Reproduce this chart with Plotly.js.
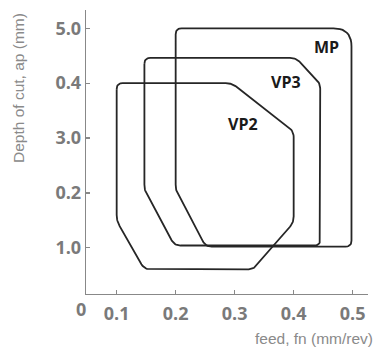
<!DOCTYPE html>
<html>
<head>
<meta charset="utf-8">
<script src="https://cdn.plot.ly/plotly-3.0.1.min.js"></script>
<style>
html,body{margin:0;padding:0;background:#fff;}
#chart{width:374px;height:354px;}
</style>
</head>
<body>
<div id="chart"></div>
<script>
// ---- data ----
var vp2X = [0.100, 0.295, 0.400, 0.400, 0.332, 0.147, 0.100];
var vp2Y = [4.00, 4.00, 3.125, 1.46, 0.605, 0.605, 1.487];
var vp3X = [0.147, 0.404, 0.445, 0.445, 0.198, 0.147];
var vp3Y = [4.46, 4.46, 4.00, 1.04, 1.04, 2.043];
var mpX  = [0.200, 0.498, 0.498, 0.251, 0.200];
var mpY  = [5.00, 5.00, 1.02, 1.02, 2.04];
var regionNames = ['VP2', 'VP3', 'MP'];
var xTickVals = [0.1, 0.2, 0.3, 0.4, 0.5];
var xTickText = ['0.1', '0.2', '0.3', '0.4', '0.5'];
var yTickVals = [1, 2, 3, 4, 5];
var yTickText = ['1.0', '0.2', '3.0', '0.4', '5.0'];

// ---- layout / style ----
var W = 374, H = 354;
var M = {l: 86, r: 6, t: 10, b: 60};
var xRange = [0.048, 0.526];
var yRange = [0.156, 5.334];
var lineColor = '#262626';
var cornerRadius = [[6,6,6,6,6,6,6],[6,6,6,6,6,6],[6,18,6,6,6]];

var pw = W - M.l - M.r, ph = H - M.t - M.b;
function toPx(x, y){ return [(x - xRange[0]) / (xRange[1] - xRange[0]) * pw, (yRange[1] - y) / (yRange[1] - yRange[0]) * ph]; }
function toData(p){ return [xRange[0] + p[0] / pw * (xRange[1] - xRange[0]), yRange[1] - p[1] / ph * (yRange[1] - yRange[0])]; }

// round the polygon corners (pixel radius) for drawing
function rounded(xs, ys, radii){
  var n = xs.length, pts = [], outX = [], outY = [];
  for (var i = 0; i < n; i++) pts.push(toPx(xs[i], ys[i]));
  for (var i = 0; i < n; i++){
    var v = pts[i], a = pts[(i - 1 + n) % n], b = pts[(i + 1) % n];
    var da = Math.hypot(a[0]-v[0], a[1]-v[1]), db = Math.hypot(b[0]-v[0], b[1]-v[1]);
    var r = Math.min(radii[i], da/2, db/2);
    var p0 = [v[0] + (a[0]-v[0]) / da * r, v[1] + (a[1]-v[1]) / da * r];
    var p2 = [v[0] + (b[0]-v[0]) / db * r, v[1] + (b[1]-v[1]) / db * r];
    for (var k = 0; k <= 10; k++){
      var t = k / 10, u = 1 - t;
      var q = [u*u*p0[0] + 2*u*t*v[0] + t*t*p2[0], u*u*p0[1] + 2*u*t*v[1] + t*t*p2[1]];
      var d = toData(q); outX.push(d[0]); outY.push(d[1]);
    }
  }
  outX.push(outX[0]); outY.push(outY[0]);
  return {x: outX, y: outY};
}

var shapesData = [[vp2X, vp2Y], [vp3X, vp3Y], [mpX, mpY]];
var traces = shapesData.map(function(s, i){
  var r = rounded(s[0], s[1], cornerRadius[i]);
  return {type: 'scatter', mode: 'lines', x: r.x, y: r.y, name: regionNames[i],
          line: {color: lineColor, width: 1.8}, hoverinfo: 'skip', showlegend: false};
});

var tickFont = {family: 'Open Sans, Lato, sans-serif', size: 18, color: '#7a7a7a', weight: 'bold'};
var titleFont = {family: 'Liberation Sans, Arial, sans-serif', size: 15.5, color: '#8a8a8a'};
var labelFont = {family: 'Open Sans, Lato, sans-serif', size: 16, color: '#1a1a1a', weight: 'bold'};

var layout = {
  width: W, height: H,
  margin: M,
  paper_bgcolor: '#fff', plot_bgcolor: '#fff',
  showlegend: false,
  xaxis: {range: xRange, tickvals: xTickVals, ticktext: xTickText, ticks: 'inside', ticklen: 4,
          tickcolor: '#888', tickwidth: 1.3, showline: true, linecolor: '#888', linewidth: 1.3,
          showgrid: false, zeroline: false, tickfont: tickFont, fixedrange: true, ticklabelstandoff: 3},
  yaxis: {range: yRange, tickvals: yTickVals, ticktext: yTickText, ticks: 'inside', ticklen: 4,
          tickcolor: '#888', tickwidth: 1.3, showline: true, linecolor: '#888', linewidth: 1.3,
          showgrid: false, zeroline: false, tickfont: tickFont, fixedrange: true},
  annotations: [
    {text: 'MP', x: 0.456, y: 4.66, xref: 'x', yref: 'y', showarrow: false, font: labelFont},
    {text: 'VP3', x: 0.387, y: 4.02, xref: 'x', yref: 'y', showarrow: false, font: labelFont},
    {text: 'VP2', x: 0.314, y: 3.25, xref: 'x', yref: 'y', showarrow: false, font: labelFont},
    {text: '0', x: (81 - M.l) / pw, y: (M.t + ph - 309) / ph, xref: 'paper', yref: 'paper',
     showarrow: false, font: tickFont, xanchor: 'center', yanchor: 'middle'},
    {text: 'feed, fn (mm/rev)', x: (314 - M.l) / pw, y: (M.t + ph - 338) / ph, xref: 'paper', yref: 'paper',
     showarrow: false, font: titleFont, xanchor: 'center', yanchor: 'middle'},
    {text: 'Depth of cut, ap (mm)', x: (19 - M.l) / pw, y: (M.t + ph - 88) / ph, xref: 'paper', yref: 'paper',
     showarrow: false, font: titleFont, textangle: -90, xanchor: 'center', yanchor: 'middle'}
  ]
};

Plotly.newPlot('chart', traces, layout, {displayModeBar: false, staticPlot: true});
</script>
</body>
</html>
